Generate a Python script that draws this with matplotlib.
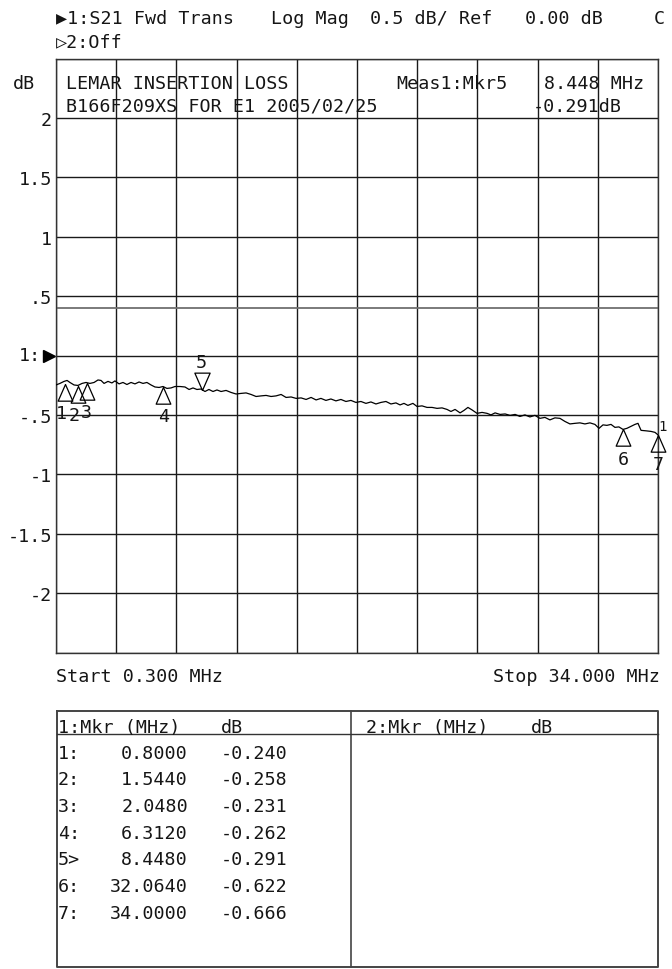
import numpy as np
import matplotlib
matplotlib.use("Agg")
import matplotlib.pyplot as plt
from matplotlib.transforms import blended_transform_factory

plt.rcParams['font.family'] = ['DejaVu Sans Mono', 'DejaVu Sans']

# ---- trace (MHz, dB) ----
freq_mhz = [0.30, 0.52, 0.75, 0.92, 1.08, 1.31, 1.53, 1.76, 1.98, 2.20,
            2.43, 2.65, 2.82, 2.99, 3.21, 3.43, 3.60, 3.83, 4.05, 4.27,
            4.50, 4.72, 4.95, 5.17, 5.39, 5.62, 5.84, 6.07, 6.29, 6.51,
            6.74, 6.96, 7.24, 7.52, 7.75, 7.97, 8.19, 8.42, 8.64, 8.86,
            9.09, 9.31, 9.54, 9.82, 10.10, 10.38, 10.66, 10.94, 11.22, 11.50,
            11.78, 12.06, 12.34, 12.62, 12.90, 13.18, 13.46, 13.74, 14.02, 14.30,
            14.58, 14.86, 15.13, 15.41, 15.69, 15.97, 16.25, 16.53, 16.81, 17.09,
            17.37, 17.65, 17.93, 18.21, 18.49, 18.77, 19.05, 19.33, 19.56, 19.78,
            20.00, 20.28, 20.51, 20.79, 21.07, 21.35, 21.63, 21.91, 22.19, 22.41,
            22.64, 22.92, 23.14, 23.36, 23.59, 23.87, 24.15, 24.43, 24.65, 24.88,
            25.16, 25.44, 25.72, 26.00, 26.27, 26.55, 26.83, 27.11, 27.39, 27.67,
            27.95, 28.23, 28.51, 28.79, 29.07, 29.35, 29.63, 29.91, 30.19, 30.47,
            30.70, 30.92, 31.14, 31.37, 31.59, 31.81, 32.04, 32.26, 32.48, 32.71,
            32.88, 33.05, 33.33, 33.61, 33.83, 34.00]
trace_db = [-0.248, -0.235, -0.218, -0.210, -0.227, -0.248, -0.252, -0.235, -0.227, -0.235,
            -0.227, -0.206, -0.210, -0.235, -0.218, -0.231, -0.214, -0.239, -0.227, -0.244,
            -0.227, -0.239, -0.223, -0.235, -0.227, -0.248, -0.265, -0.269, -0.261, -0.277,
            -0.273, -0.261, -0.261, -0.265, -0.286, -0.273, -0.286, -0.282, -0.303, -0.286,
            -0.303, -0.290, -0.303, -0.294, -0.311, -0.324, -0.319, -0.315, -0.328, -0.345,
            -0.340, -0.336, -0.345, -0.340, -0.328, -0.353, -0.349, -0.361, -0.357, -0.370,
            -0.353, -0.374, -0.361, -0.378, -0.366, -0.382, -0.370, -0.387, -0.378, -0.395,
            -0.387, -0.403, -0.391, -0.408, -0.395, -0.387, -0.408, -0.399, -0.416, -0.403,
            -0.420, -0.403, -0.429, -0.424, -0.437, -0.437, -0.445, -0.441, -0.454, -0.471,
            -0.454, -0.483, -0.462, -0.437, -0.458, -0.487, -0.479, -0.487, -0.500, -0.483,
            -0.496, -0.492, -0.504, -0.496, -0.513, -0.500, -0.517, -0.504, -0.529, -0.521,
            -0.542, -0.525, -0.529, -0.555, -0.576, -0.571, -0.567, -0.576, -0.567, -0.580,
            -0.613, -0.584, -0.588, -0.580, -0.605, -0.601, -0.622, -0.613, -0.597, -0.580,
            -0.571, -0.630, -0.634, -0.639, -0.647, -0.668]

# ---- markers (from the marker table) ----
mkr_num = [1, 2, 3, 4, 5, 6, 7]
mkr_freq = [0.8, 1.544, 2.048, 6.312, 8.448, 32.064, 34.0]
mkr_db = [-0.240, -0.258, -0.231, -0.262, -0.291, -0.622, -0.666]
active_mkr = 5

start_mhz, stop_mhz = 0.300, 34.000
ref_db = 0.0
scale_db = 0.5
limit_db = 0.40
y_ticks = [-2.5, -2, -1.5, -1, -0.5, 0, 0.5, 1, 1.5, 2, 2.5]
y_labels = ['', '-2', '-1.5', '-1', '-.5', '', '.5', '1', '1.5', '2', '']

W, H = 672, 970
FS = 13.2
ink = '#151515'

fig = plt.figure(figsize=(W / 100, H / 100), dpi=100)


def box(l, t, r, b):
    return [l / W, 1 - b / H, (r - l) / W, (b - t) / H]


ax = fig.add_axes(box(56, 59.5, 658, 653.5))
ax.set_xlim(start_mhz, stop_mhz)
ax.set_ylim(ref_db - 5 * scale_db, ref_db + 5 * scale_db)
ax.set_xticks(np.linspace(start_mhz, stop_mhz, 11))
ax.set_xticklabels([])
ax.set_yticks(y_ticks)
ax.set_yticklabels(y_labels, fontsize=FS, color=ink)
ax.tick_params(length=0, pad=3)
ax.grid(True, color='#1a1a1a', lw=1.0)
for s in ax.spines.values():
    s.set_color('#333333')
    s.set_linewidth(1.0)
ax.axhline(limit_db, color='#707070', lw=1.3, zorder=2)

ax.plot(freq_mhz, trace_db, color='black', lw=0.9, zorder=3)

# marker triangles, apex on the trace; label nudges in points
up_tri = [(0, 0), (-0.44, -1), (0.44, -1), (0, 0)]
down_tri = [(0, 0), (-0.44, 1), (0.44, 1), (0, 0)]
label_dx = {1: -2.4, 2: -3.0, 3: -0.3}
for n, f, d in zip(mkr_num, mkr_freq, mkr_db):
    if n == active_mkr:
        ax.plot(f, d, marker=down_tri, ms=25, mfc='none', mec='black',
                mew=0.9, clip_on=False, zorder=4)
        ax.annotate(str(n), (f, d), xytext=(0, 20.5), textcoords='offset points',
                    ha='center', va='center', fontsize=FS, color=ink)
    else:
        ax.plot(f, d, marker=up_tri, ms=24, mfc='none', mec='black',
                mew=0.9, clip_on=False, zorder=4)
        ax.annotate(str(n), (f, d), xytext=(label_dx.get(n, 0), -21),
                    textcoords='offset points', ha='center', va='center',
                    fontsize=FS, color=ink, annotation_clip=False)
ax.annotate('1', (mkr_freq[-1], mkr_db[-1]), xytext=(3, 6), textcoords='offset points',
            ha='center', va='center', fontsize=10, color=ink, annotation_clip=False)

# reference level pointer
trans = blended_transform_factory(ax.transAxes, ax.transData)
ax.plot([-0.0116], [ref_db], marker='>', ms=8, color='black', transform=trans,
        clip_on=False)
ax.text(-0.025, ref_db, '1:', transform=trans, ha='right', va='center',
        fontsize=FS, color=ink)

# overlay in pixel coordinates for the screen texts and the table
ov = fig.add_axes([0, 0, 1, 1], zorder=5)
ov.set_xlim(0, W)
ov.set_ylim(H, 0)
ov.axis('off')


def t(x, y, s, ha='left'):
    ov.text(x, y + 6.6, s, ha=ha, va='baseline', fontsize=FS, color=ink)


t(56, 17, '▶1:S21 Fwd Trans')
t(271, 17, 'Log Mag')
t(370, 17, f'{scale_db:.1f} dB/ Ref')
t(525, 17, f'{ref_db:.2f} dB')
t(654, 17, 'C')
t(56, 41, '▷2:Off')

t(13, 82, 'dB')
t(66, 82, 'LEMAR INSERTION LOSS')
t(66, 105, 'B166F209XS FOR E1 2005/02/25')
ia = mkr_num.index(active_mkr)
t(396, 82, f'Meas1:Mkr{active_mkr}')
t(544, 82, f'{mkr_freq[ia]:.3f} MHz')
t(533, 105, f'{mkr_db[ia]:.3f}dB')

t(56, 675, f'Start {start_mhz:.3f} MHz')
t(660, 675, f'Stop {stop_mhz:.3f} MHz', ha='right')

# marker table
tl, tr, tt, tb, tm, th = 57, 658, 712, 968, 351, 735
ov.plot([tl, tr, tr, tl, tl], [tt, tt, tb, tb, tt], color='#444444', lw=1.4)
ov.plot([tm, tm], [tt, tb], color='#444444', lw=1.2)
ov.plot([tl, tr], [th, th], color='#333333', lw=1.0)
t(58, 726, '1:Mkr (MHz)')
t(221, 726, 'dB')
t(366, 726, '2:Mkr (MHz)')
t(531, 726, 'dB')
for i, (n, f, d) in enumerate(zip(mkr_num, mkr_freq, mkr_db)):
    y = 752 + 26.7 * i
    t(58, y, f'{n}>' if n == active_mkr else f'{n}:')
    t(188, y, f'{f:.4f}', ha='right')
    t(288, y, f'{d:.3f}', ha='right')

fig.savefig('out.png', dpi=100, facecolor='white')
